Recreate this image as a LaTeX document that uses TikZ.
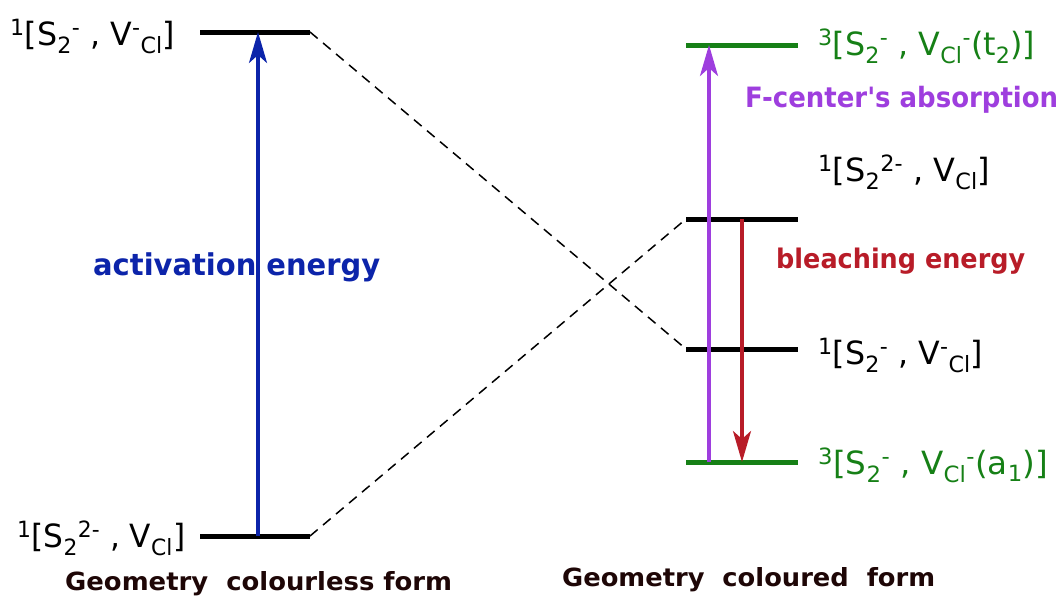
\documentclass[tikz,border=0pt]{standalone}
\usepackage{fontspec}
\setmainfont{DejaVu Sans}
\newfontfamily\nomapfont{DejaVu Sans}
\usetikzlibrary{arrows.meta}
\definecolor{cblue}{RGB}{12,36,170}
\definecolor{cpurple}{RGB}{158,62,222}
\definecolor{cred}{RGB}{184,28,40}
\definecolor{cgreen}{RGB}{22,128,22}
\definecolor{cdark}{RGB}{30,6,6}
\newcommand\fitw[2]{\resizebox{#1pt}{\height}{#2}}
\newcommand\up[1]{\textsuperscript{#1}}
\newcommand\dn[1]{\textsubscript{#1}}
\tikzset{
  lvl/.style={line width=5pt},
  dashline/.style={line width=1.5pt, dash pattern=on 10pt off 7pt},
  arr/.style={line width=3.3pt, -{Stealth[length=31pt,width=18pt,inset=8pt]}},
  lab/.style={inner sep=0pt, anchor=base west, font=\fontsize{32}{38}\selectfont},
  blab/.style={inner sep=0pt, anchor=base west, font=\bfseries\fontsize{30}{36}\selectfont},
  glab/.style={inner sep=0pt, anchor=base west, text=cdark, font=\bfseries\fontsize{25}{29}\selectfont},
}
\begin{document}
\begin{tikzpicture}[x=1pt,y=-1pt]
\useasboundingbox (0,0) rectangle (1060,595);
% level end points
\coordinate (a1) at (200,32);  \coordinate (a2) at (310,32);
\coordinate (b1) at (200,536); \coordinate (b2) at (310,536);
\coordinate (g1) at (686,45);  \coordinate (g2) at (798,45);
\coordinate (c1) at (686,219); \coordinate (c2) at (798,219);
\coordinate (d1) at (686,349); \coordinate (d2) at (798,349);
\coordinate (h1) at (686,462); \coordinate (h2) at (798,462);
% arrow end points
\coordinate (blo) at (258,536); \coordinate (bhi) at (258,32);
\coordinate (plo) at (709,462); \coordinate (phi) at (709,45);
\coordinate (rhi) at (742,219); \coordinate (rlo) at (742,462);
% levels
\draw[lvl] (a1) -- (a2);
\draw[lvl] (b1) -- (b2);
\draw[lvl, cgreen] (g1) -- (g2);
\draw[lvl] (c1) -- (c2);
\draw[lvl] (d1) -- (d2);
\draw[lvl, cgreen] (h1) -- (h2);
% correlation lines
\draw[dashline] (a2) -- (d1);
\draw[dashline] (b2) -- (c1);
% arrows
\draw[arr, cblue] (blo) -- (bhi);
\draw[arr, cpurple] (plo) -- (phi);
\draw[arr, cred] (rhi) -- (rlo);
% state labels
\node[lab] (tla) at (10,45) {\fitw{165}{\up{1}[S\dn{2}\up{-} , V\up{-}\dn{Cl}]}};
\node[lab] (tlb) at (17,547) {\fitw{168}{\up{1}[S\dn{2}\up{2-} , V\dn{Cl}]}};
\node[lab, text=cgreen] (tg) at (818,55) {\fitw{217}{\up{3}[S\dn{2}\up{-} , V\dn{Cl}\up{-}(t\dn{2})]}};
\node[lab] (tc) at (818,181) {\fitw{172}{\up{1}[S\dn{2}\up{2-} , V\dn{Cl}]}};
\node[lab] (td) at (818,364) {\fitw{165}{\up{1}[S\dn{2}\up{-} , V\up{-}\dn{Cl}]}};
\node[lab, text=cgreen] (th) at (818,474) {\fitw{230}{\up{3}[S\dn{2}\up{-} , V\dn{Cl}\up{-}(a\dn{1})]}};
% energy labels
\node[blab, text=cblue] (ta) at (93,275) {\fitw{287}{activation energy}};
\node[blab, text=cpurple, font=\nomapfont\bfseries\fontsize{28}{34}\selectfont] (tf) at (745,107) {\fitw{313}{F-center's absorption}};
\node[blab, text=cred, font=\bfseries\fontsize{27}{32}\selectfont] (tb) at (776,268) {\fitw{249}{bleaching energy}};
% captions
\node[glab] (cap1) at (65,590) {\fitw{387}{Geometry\ \ colourless form}};
\node[glab] (cap2) at (562,586) {\fitw{373}{Geometry\ \ coloured\ \ form}};
\end{tikzpicture}
\end{document}
